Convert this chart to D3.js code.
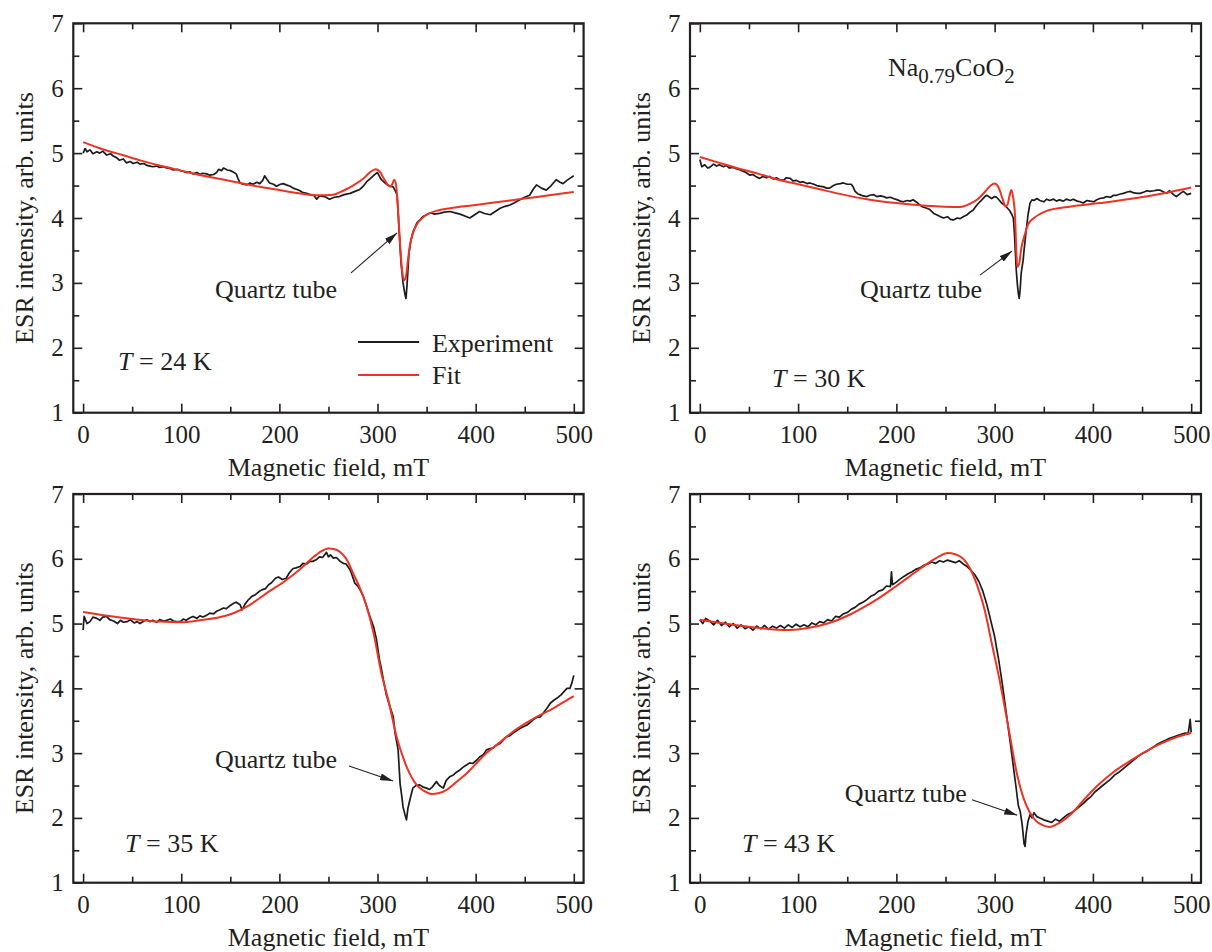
<!DOCTYPE html>
<html><head><meta charset="utf-8">
<script src="https://cdn.jsdelivr.net/npm/d3@7"></script>
<style>
body{margin:0;background:#fff}
svg{display:block}
text{font-family:"Liberation Serif","Times New Roman",serif;fill:#231f20}
</style>
</head><body>
<svg id="chart" width="1212" height="952" font-family="'Liberation Serif','Times New Roman',serif"></svg>
<script>
// ---------- data ----------
const fieldTicks = [0, 100, 200, 300, 400, 500];
const fieldMinorTicks = [50, 150, 250, 350, 450];
const intensityTicks = [1, 2, 3, 4, 5, 6, 7];
const intensityMinorTicks = [1.5, 2.5, 3.5, 4.5, 5.5, 6.5];
const legendLabels = ["Experiment", "Fit"];
const temperatures = ["24", "30", "35", "43"];
const quartzLabel = "Quartz tube";

// T = 24 K
const exp24 = [[0,5.00],[2,5.07],[4,5.02],[7,5.05],[10,4.99],[14,5.02],[17,5.00],[20,5.03],[24,4.97],[28,4.99],[31,4.95],[34,4.93],[37,4.89],[41,4.91],[44,4.85],[48,4.87],[51,4.84],[55,4.86],[58,4.83],[62,4.84],[65,4.81],[68,4.80],[71,4.79],[75,4.80],[78,4.78],[82,4.79],[85,4.77],[89,4.76],[92,4.74],[96,4.75],[99,4.73],[102,4.72],[105,4.70],[109,4.71],[112,4.68],[116,4.70],[119,4.67],[122,4.69],[126,4.68],[129,4.66],[133,4.67],[136,4.70],[138,4.75],[141,4.73],[143,4.77],[147,4.74],[150,4.73],[153,4.71],[156,4.68],[158,4.60],[160,4.54],[163,4.52],[167,4.51],[170,4.54],[173,4.52],[177,4.55],[180,4.53],[183,4.58],[185,4.65],[188,4.58],[190,4.54],[194,4.52],[197,4.49],[201,4.52],[204,4.53],[207,4.51],[211,4.49],[214,4.46],[218,4.44],[221,4.42],[224,4.39],[228,4.38],[231,4.36],[235,4.35],[238,4.29],[241,4.34],[246,4.33],[251,4.29],[256,4.32],[261,4.33],[266,4.36],[272,4.38],[277,4.41],[282,4.44],[286,4.50],[289,4.56],[292,4.60],[295,4.64],[298,4.68],[300,4.70],[302,4.64],[304,4.59],[307,4.55],[310,4.51],[313,4.49],[316,4.48],[318,4.42],[320,4.35],[321,4.10],[322,3.80],[323,3.55],[324,3.30],[326,3.00],[328,2.82],[329,2.76],[330,2.95],[331,3.20],[332,3.45],[334,3.65],[336,3.78],[338,3.85],[340,3.92],[343,3.97],[346,4.02],[350,4.05],[354,4.08],[358,4.06],[363,4.07],[368,4.09],[374,4.10],[379,4.08],[384,4.06],[389,4.03],[394,4.00],[399,4.05],[404,4.10],[409,4.07],[415,4.05],[420,4.10],[425,4.15],[430,4.18],[435,4.20],[440,4.24],[445,4.28],[450,4.32],[455,4.35],[459,4.45],[462,4.51],[467,4.46],[472,4.43],[477,4.50],[482,4.59],[486,4.55],[489,4.53],[493,4.58],[496,4.61],[500,4.65]];
const fit24 = [[0,5.17],[20,5.06],[40,4.97],[60,4.88],[80,4.80],[100,4.73],[120,4.66],[140,4.60],[160,4.54],[180,4.48],[200,4.43],[220,4.38],[240,4.35],[255,4.36],[265,4.42],[275,4.50],[285,4.60],[292,4.70],[298,4.75],[302,4.72],[306,4.62],[310,4.52],[313,4.48],[315,4.52],[317,4.59],[319,4.50],[321,4.10],[323,3.60],[325,3.20],[327,3.04],[329,3.10],[331,3.35],[333,3.58],[336,3.76],[340,3.90],[345,3.99],[350,4.05],[360,4.11],[374,4.15],[400,4.20],[425,4.25],[450,4.30],[475,4.35],[500,4.40]];

// T = 30 K
const exp30 = [[0,4.90],[2,4.79],[5,4.82],[8,4.77],[10,4.78],[14,4.83],[17,4.80],[20,4.82],[24,4.79],[27,4.81],[30,4.77],[34,4.78],[37,4.76],[41,4.74],[44,4.72],[47,4.70],[51,4.66],[54,4.67],[58,4.63],[61,4.61],[64,4.64],[68,4.62],[71,4.64],[75,4.60],[78,4.62],[81,4.59],[85,4.58],[88,4.62],[92,4.61],[95,4.57],[98,4.58],[102,4.55],[105,4.56],[109,4.53],[112,4.54],[116,4.52],[119,4.50],[122,4.49],[126,4.48],[129,4.46],[132,4.46],[136,4.50],[139,4.52],[143,4.53],[146,4.54],[150,4.52],[154,4.52],[156,4.48],[158,4.41],[161,4.37],[163,4.36],[166,4.34],[170,4.33],[173,4.35],[177,4.36],[180,4.33],[184,4.34],[187,4.33],[190,4.31],[194,4.32],[197,4.30],[201,4.28],[204,4.26],[207,4.25],[211,4.27],[214,4.26],[217,4.28],[221,4.24],[224,4.20],[227,4.17],[231,4.15],[234,4.13],[238,4.07],[241,4.05],[245,4.02],[248,4.00],[252,4.02],[255,3.98],[258,3.97],[262,4.00],[265,3.99],[268,4.02],[272,4.05],[275,4.09],[278,4.12],[282,4.20],[285,4.25],[287,4.28],[290,4.33],[292,4.35],[295,4.32],[297,4.30],[300,4.33],[302,4.32],[305,4.27],[307,4.23],[310,4.20],[312,4.17],[315,4.12],[317,4.07],[319,4.00],[320,3.80],[321,3.50],[322,3.20],[323,3.00],[324,2.85],[325,2.76],[326,2.90],[327,3.15],[328,3.25],[329,3.35],[330,3.51],[332,3.80],[334,4.05],[336,4.23],[338,4.28],[340,4.27],[343,4.30],[346,4.27],[350,4.25],[353,4.29],[356,4.27],[360,4.29],[363,4.26],[366,4.28],[370,4.26],[373,4.29],[377,4.27],[380,4.29],[384,4.26],[387,4.25],[390,4.23],[394,4.27],[397,4.26],[401,4.25],[404,4.28],[407,4.30],[411,4.31],[414,4.33],[418,4.32],[421,4.35],[424,4.35],[428,4.37],[431,4.38],[435,4.40],[438,4.41],[441,4.39],[445,4.38],[448,4.38],[452,4.40],[455,4.42],[458,4.41],[462,4.42],[465,4.43],[468,4.43],[472,4.40],[475,4.38],[478,4.42],[482,4.36],[485,4.33],[489,4.38],[492,4.41],[496,4.36],[500,4.38]];
const fit30 = [[0,4.94],[20,4.85],[40,4.76],[60,4.68],[80,4.59],[100,4.52],[120,4.45],[146,4.36],[170,4.29],[200,4.23],[230,4.19],[265,4.17],[275,4.22],[282,4.28],[290,4.40],[296,4.50],[300,4.53],[304,4.47],[308,4.30],[311,4.18],[313,4.20],[315,4.33],[317,4.43],[319,4.30],[320.8,4.02],[322,3.50],[323,3.25],[325,3.30],[327,3.52],[331,3.76],[334,3.90],[340,4.00],[346,4.06],[353,4.11],[374,4.17],[407,4.23],[441,4.30],[475,4.39],[500,4.47]];

// T = 35 K
const exp35 = [[0,4.90],[1,5.11],[4,5.00],[7,5.03],[10,5.10],[14,5.08],[17,5.05],[20,5.10],[24,5.11],[27,5.06],[31,5.04],[35,5.00],[38,5.05],[41,5.02],[45,5.03],[48,5.06],[52,5.01],[55,5.03],[58,5.00],[62,5.04],[65,5.06],[68,5.03],[71,5.05],[75,5.02],[78,5.06],[82,5.04],[85,5.05],[89,5.07],[92,5.04],[95,5.03],[99,5.03],[102,5.07],[105,5.05],[109,5.09],[112,5.11],[116,5.08],[119,5.12],[122,5.10],[126,5.13],[129,5.16],[133,5.15],[136,5.19],[139,5.21],[143,5.24],[146,5.23],[150,5.28],[153,5.31],[156,5.33],[160,5.29],[162,5.21],[165,5.30],[168,5.36],[172,5.42],[175,5.44],[179,5.49],[182,5.52],[186,5.54],[189,5.60],[192,5.63],[196,5.70],[199,5.72],[203,5.68],[207,5.70],[210,5.78],[214,5.85],[217,5.86],[221,5.88],[224,5.93],[228,5.92],[231,5.96],[234,5.96],[238,5.99],[241,6.03],[244,6.02],[246,6.06],[248,6.10],[250,6.03],[252,6.06],[255,6.01],[258,6.02],[262,5.96],[265,5.93],[268,5.92],[272,5.83],[274,5.75],[277,5.62],[280,5.58],[284,5.47],[286,5.40],[289,5.26],[292,5.12],[296,4.95],[299,4.75],[302,4.44],[304,4.30],[306,4.13],[309,3.90],[312,3.75],[316,3.56],[318,3.30],[321,3.05],[323,2.53],[325,2.30],[326,2.17],[328,2.05],[329.5,1.97],[331,2.15],[333,2.28],[335,2.40],[336,2.46],[339,2.50],[343,2.51],[346,2.48],[350,2.46],[353,2.44],[356,2.48],[360,2.56],[363,2.50],[367,2.46],[370,2.58],[374,2.64],[377,2.66],[380,2.70],[384,2.74],[387,2.78],[391,2.82],[394,2.85],[397,2.84],[401,2.89],[404,2.94],[408,2.98],[411,3.05],[415,3.07],[418,3.08],[421,3.12],[425,3.15],[428,3.20],[431,3.25],[435,3.27],[438,3.31],[442,3.35],[445,3.38],[449,3.41],[452,3.43],[456,3.48],[459,3.52],[462,3.55],[466,3.56],[469,3.62],[473,3.70],[476,3.77],[480,3.82],[483,3.85],[487,3.90],[490,3.95],[493,4.00],[496,4.00],[498,4.08],[500,4.20]];
const fit35 = [[0,5.18],[25,5.12],[51,5.07],[78,5.03],[100,5.02],[119,5.05],[140,5.10],[153,5.16],[170,5.29],[187,5.47],[205,5.65],[221,5.84],[235,6.03],[241,6.10],[250,6.16],[258,6.14],[265,6.06],[270,5.95],[275,5.78],[282,5.55],[289,5.26],[296,4.85],[304,4.23],[311,3.82],[319.5,3.25],[325,2.98],[329.6,2.79],[335,2.62],[339.8,2.51],[347,2.42],[355,2.37],[362,2.38],[370,2.43],[380,2.55],[391,2.69],[400,2.83],[411,3.00],[425,3.17],[438,3.33],[452,3.47],[466,3.59],[480,3.70],[493,3.82],[500,3.88]];

// T = 43 K
const exp43 = [[0,5.06],[3,5.00],[6,5.08],[10,5.04],[14,4.98],[18,5.05],[22,4.97],[26,5.02],[30,4.95],[34,5.00],[38,4.93],[42,4.98],[46,4.92],[50,4.95],[54,4.90],[58,4.96],[62,4.92],[66,4.97],[70,4.91],[74,4.96],[78,4.93],[82,4.97],[86,4.93],[90,4.98],[94,4.94],[98,4.99],[102,4.95],[106,4.98],[110,4.95],[114,5.01],[118,4.98],[122,5.03],[126,5.01],[130,5.06],[134,5.04],[138,5.11],[142,5.10],[146,5.15],[150,5.17],[154,5.22],[158,5.25],[162,5.30],[166,5.33],[170,5.37],[174,5.42],[178,5.45],[182,5.50],[186,5.52],[190,5.58],[194,5.57],[195,5.80],[196,5.60],[200,5.64],[204,5.69],[208,5.73],[212,5.77],[216,5.80],[220,5.84],[224,5.86],[228,5.90],[232,5.92],[236,5.95],[240,5.93],[244,5.97],[248,5.95],[252,5.98],[256,5.96],[260,5.94],[264,5.97],[268,5.92],[272,5.88],[276,5.82],[280,5.75],[284,5.65],[288,5.50],[292,5.30],[296,5.05],[300,4.80],[304,4.45],[308,4.05],[312,3.60],[316,3.15],[319,2.80],[322,2.45],[324,2.20],[326,2.10],[328,1.90],[330,1.60],[331,1.56],[332,1.75],[334,1.95],[336,2.05],[338,2.00],[340,2.08],[343,2.02],[346,2.00],[350,1.97],[354,1.95],[358,1.93],[362,1.98],[366,1.95],[370,2.00],[374,2.05],[378,2.08],[382,2.12],[386,2.17],[390,2.22],[394,2.28],[398,2.33],[402,2.40],[406,2.45],[410,2.50],[414,2.55],[418,2.60],[422,2.66],[426,2.70],[430,2.75],[434,2.80],[438,2.85],[442,2.90],[446,2.95],[450,2.99],[454,3.02],[458,3.06],[462,3.10],[466,3.14],[470,3.17],[474,3.20],[478,3.23],[482,3.25],[486,3.27],[490,3.29],[494,3.31],[497,3.30],[499,3.52],[500,3.32]];
const fit43 = [[0,5.06],[25,5.00],[50,4.95],[75,4.91],[92,4.90],[110,4.93],[130,5.00],[153,5.14],[170,5.28],[183,5.40],[200,5.58],[220,5.80],[235,5.96],[245,6.05],[252,6.09],[260,6.07],[268,6.00],[275,5.85],[282,5.60],[290,5.20],[297,4.70],[305,4.13],[314,3.40],[323,2.66],[332,2.20],[341,1.97],[350,1.88],[356,1.86],[363,1.90],[377,2.05],[392,2.30],[407,2.53],[422,2.72],[438,2.88],[453,3.02],[468,3.14],[484,3.24],[500,3.31]];

// ---------- layout ----------
const COL_BLACK = "#1c1a1b", COL_RED = "#ec3324", COL_AX = "#231f20";
const FONT = "'Liberation Serif','Times New Roman',serif";
const panels = [
  {exp: exp24, fit: fit24, temp: temperatures[0], xr: [73.3, 583.6], yr: [412.7, 23.3],
   tLabel: [35.6, 1.66], quartz: [134.4, 2.77], arrow: [[273, 3.155], [319.9, 3.77]], legend: true},
  {exp: exp30, fit: fit30, temp: temperatures[1], xr: [690, 1201], yr: [412.7, 23.3],
   tLabel: [73.5, 1.40], quartz: [163, 2.77], arrow: [[285.1, 3.12], [317.7, 3.49]], formula: [191.5, 6.19]},
  {exp: exp35, fit: fit35, temp: temperatures[2], xr: [73.3, 583.6], yr: [882.7, 494],
   tLabel: [42.8, 1.48], quartz: [134.4, 2.77], arrow: [[271, 2.80], [315.8, 2.57]]},
  {exp: exp43, fit: fit43, temp: temperatures[3], xr: [690, 1201], yr: [882.7, 494],
   tLabel: [42.9, 1.47], quartz: [147.6, 2.25], arrow: [[277, 2.28], [323, 2.04]]}
];

const svg = d3.select("#chart");
svg.append("defs").append("marker")
  .attr("id", "arrowhead").attr("markerUnits", "userSpaceOnUse")
  .attr("markerWidth", 13).attr("markerHeight", 7)
  .attr("refX", 13).attr("refY", 3.5).attr("orient", "auto")
  .append("path").attr("d", "M0,0 L13,3.5 L0,7 Z").attr("fill", COL_AX);

panels.forEach(p => {
  const x = d3.scaleLinear().domain([-10, 510]).range(p.xr);
  const y = d3.scaleLinear().domain([1, 7]).range(p.yr);
  const g = svg.append("g").attr("font-family", FONT);
  const [x0, x1] = p.xr, [yb, yt] = p.yr;

  // ticks (inward on all four sides)
  const addAxis = (gen, tr, vals, size, labels, pad) => {
    const a = g.append("g").attr("transform", tr)
      .call(gen.tickValues(vals).tickSizeInner(-size).tickSizeOuter(0).tickPadding(pad)
        .tickFormat(labels ? d3.format("d") : ""));
    a.attr("font-family", FONT).attr("font-size", 25);
    a.select(".domain").remove();
    a.selectAll("line").attr("stroke", COL_AX).attr("stroke-width", 1.6);
    a.selectAll("text").attr("font-size", 25).attr("fill", COL_AX).attr("font-family", FONT);
    return a;
  };
  addAxis(d3.axisBottom(x), `translate(0,${yb})`, fieldTicks, 9, true, 12.5);
  addAxis(d3.axisBottom(x), `translate(0,${yb})`, fieldMinorTicks, 6, false, 0);
  addAxis(d3.axisTop(x), `translate(0,${yt})`, fieldTicks, 9, false, 0);
  addAxis(d3.axisTop(x), `translate(0,${yt})`, fieldMinorTicks, 6, false, 0);
  addAxis(d3.axisLeft(y), `translate(${x0},0)`, intensityTicks, 9, true, 9.5);
  addAxis(d3.axisLeft(y), `translate(${x0},0)`, intensityMinorTicks, 6, false, 0);
  addAxis(d3.axisRight(y), `translate(${x1},0)`, intensityTicks, 9, false, 0);
  addAxis(d3.axisRight(y), `translate(${x1},0)`, intensityMinorTicks, 6, false, 0);

  // frame
  g.append("rect").attr("x", x0).attr("y", yt).attr("width", x1 - x0).attr("height", yb - yt)
    .attr("fill", "none").attr("stroke", COL_AX).attr("stroke-width", 2.2);

  // axis titles
  g.append("text").attr("x", (x0 + x1) / 2).attr("y", yb + 63.5).attr("text-anchor", "middle")
    .attr("font-size", 26).text("Magnetic field, mT");
  g.append("text").attr("transform", `translate(${x0 - 40},${(yb + yt) / 2}) rotate(-90)`)
    .attr("text-anchor", "middle").attr("font-size", 26).text("ESR intensity, arb. units");

  // curves
  const line = d3.line().x(d => x(d[0])).y(d => y(d[1]));
  const smooth = d3.line().x(d => x(d[0])).y(d => y(d[1])).curve(d3.curveMonotoneX);
  g.append("path").datum(p.exp).attr("d", line).attr("fill", "none")
    .attr("stroke", COL_BLACK).attr("stroke-width", 1.7).attr("stroke-linejoin", "round");
  g.append("path").datum(p.fit).attr("d", smooth).attr("fill", "none")
    .attr("stroke", COL_RED).attr("stroke-width", 2);

  // annotations
  const tl = g.append("text").attr("x", x(p.tLabel[0])).attr("y", y(p.tLabel[1])).attr("font-size", 26);
  tl.append("tspan").attr("font-style", "italic").text("T");
  tl.append("tspan").text(` = ${p.temp} K`);

  g.append("text").attr("x", x(p.quartz[0])).attr("y", y(p.quartz[1])).attr("font-size", 26).text(quartzLabel);
  g.append("line")
    .attr("x1", x(p.arrow[0][0])).attr("y1", y(p.arrow[0][1]))
    .attr("x2", x(p.arrow[1][0])).attr("y2", y(p.arrow[1][1]))
    .attr("stroke", COL_AX).attr("stroke-width", 1.1).attr("marker-end", "url(#arrowhead)");

  if (p.legend) {
    const rows = [[legendLabels[0], COL_BLACK, 2.09, 1.94], [legendLabels[1], COL_RED, 1.58, 1.44]];
    rows.forEach(r => {
      g.append("line").attr("x1", x(280.2)).attr("x2", x(342.4)).attr("y1", y(r[2])).attr("y2", y(r[2]))
        .attr("stroke", r[1]).attr("stroke-width", 2);
      g.append("text").attr("x", x(355.5)).attr("y", y(r[3])).attr("font-size", 26).text(r[0]);
    });
  }
  if (p.formula) {
    const f = g.append("text").attr("x", x(p.formula[0])).attr("y", y(p.formula[1])).attr("font-size", 26);
    f.append("tspan").text("Na");
    f.append("tspan").attr("font-size", 21).attr("dy", 7).text("0.79");
    f.append("tspan").attr("dy", -7).text("CoO");
    f.append("tspan").attr("font-size", 21).attr("dy", 7).text("2");
  }
});
</script>
</body></html>
